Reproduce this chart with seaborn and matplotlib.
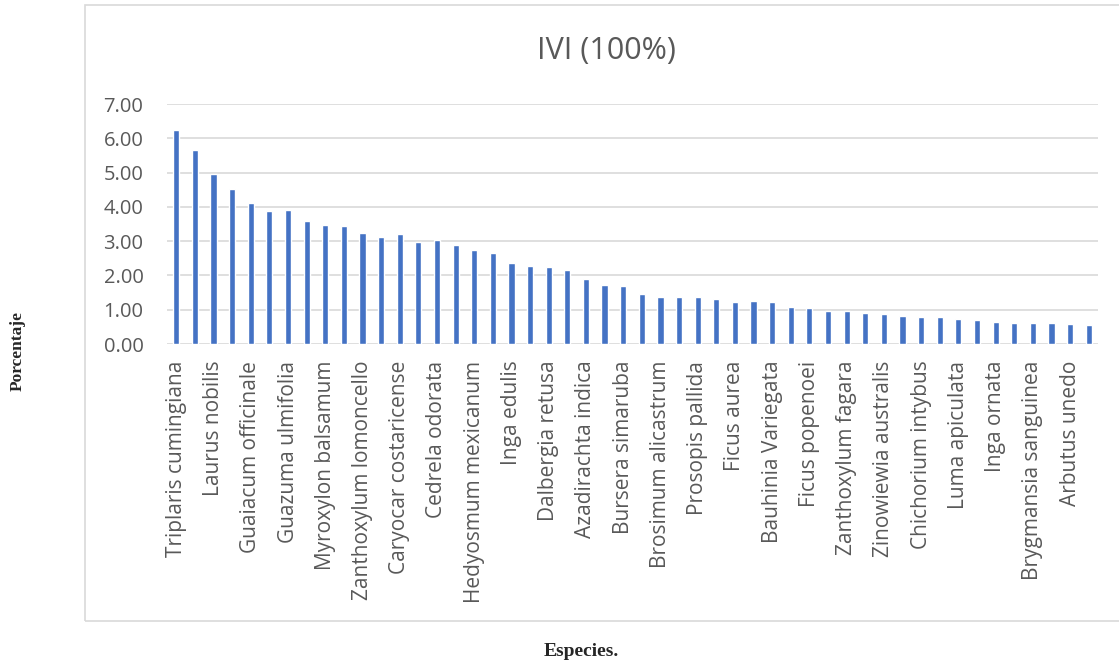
import pandas as pd
import matplotlib.pyplot as plt
import matplotlib.patches as patches
import seaborn as sns

# Species names that are printed under the axis (every other bar carries a label)
especies = ["Triplaris cumingiana", "Laurus nobilis", "Guaiacum officinale", "Guazuma ulmifolia",
            "Myroxylon balsamum", "Zanthoxylum lomoncello", "Caryocar costaricense", "Cedrela odorata",
            "Hedyosmum mexicanum", "Inga edulis", "Dalbergia retusa", "Azadirachta indica",
            "Bursera simaruba", "Brosimum alicastrum", "Prosopis pallida", "Ficus aurea",
            "Bauhinia Variegata", "Ficus popenoei", "Zanthoxylum fagara", "Zinowiewia australis",
            "Chichorium intybus", "Luma apiculata", "Inga ornata", "Brygmansia sanguinea",
            "Arbutus unedo"]

# IVI (%) for all 50 bars
ivi = [6.24, 5.66, 4.95, 4.52, 4.10, 3.88, 3.90, 3.58, 3.48, 3.43,
       3.24, 3.12, 3.20, 2.97, 3.02, 2.88, 2.74, 2.65, 2.37, 2.27,
       2.24, 2.15, 1.89, 1.71, 1.69, 1.45, 1.37, 1.37, 1.36, 1.31,
       1.22, 1.25, 1.22, 1.08, 1.04, 0.96, 0.96, 0.91, 0.87, 0.81,
       0.79, 0.79, 0.72, 0.69, 0.64, 0.61, 0.61, 0.61, 0.57, 0.54]

y_ticks = [0, 1, 2, 3, 4, 5, 6, 7]

df = pd.DataFrame({"orden": list(range(len(ivi))), "ivi": ivi})

sns.set_theme(style="white")
plt.rcParams['font.family'] = ['Open Sans', 'DejaVu Sans']

fig = plt.figure(figsize=(11.19, 6.66), dpi=100)
ax = fig.add_axes([167 / 1119, 1 - 344 / 666, (1098 - 167) / 1119, (344 - 104) / 666])

sns.barplot(data=df, x="orden", y="ivi", color="#4472C4", width=0.33, saturation=1, ax=ax, zorder=3)

ax.set_ylim(0, 7)
ax.set_xlim(-0.5, len(ivi) - 0.5)
ax.set_yticks(y_ticks)
ax.set_yticklabels([f"{v:.2f}" for v in y_ticks], fontsize=14.5, color="#595959")
ax.yaxis.grid(True, color="#d9d9d9", linewidth=1.2, zorder=0)
ax.set_xticks(range(0, len(ivi), 2))
ax.set_xticklabels(especies, rotation=90, fontsize=15, color="#595959")
ax.tick_params(axis="y", length=0, pad=17)
ax.tick_params(axis="x", length=0, pad=12)
for s in ax.spines.values():
    s.set_visible(False)
ax.set_xlabel("")
ax.set_ylabel("")

fig.text(606 / 1119, 1 - 51 / 666, "IVI (100%)", ha="center", va="center", fontsize=22, color="#595959")
fig.text(18 / 1119, 1 - 351 / 666, "Porcentaje", rotation=90, ha="center", va="center",
         fontsize=12.5, fontweight="bold", family=["Liberation Serif"])
fig.text(581 / 1119, 1 - 652 / 666, "Especies.", ha="center", va="center",
         fontsize=14, fontweight="bold", family=["Liberation Serif"])

# light frame around the chart area
fig.patches.append(patches.Rectangle((85 / 1119, 1 - 621 / 666), 1.0, (621 - 5) / 666,
                                     transform=fig.transFigure, fill=False,
                                     edgecolor="#d9d9d9", linewidth=1.2))

fig.savefig("out.png", dpi=100)
